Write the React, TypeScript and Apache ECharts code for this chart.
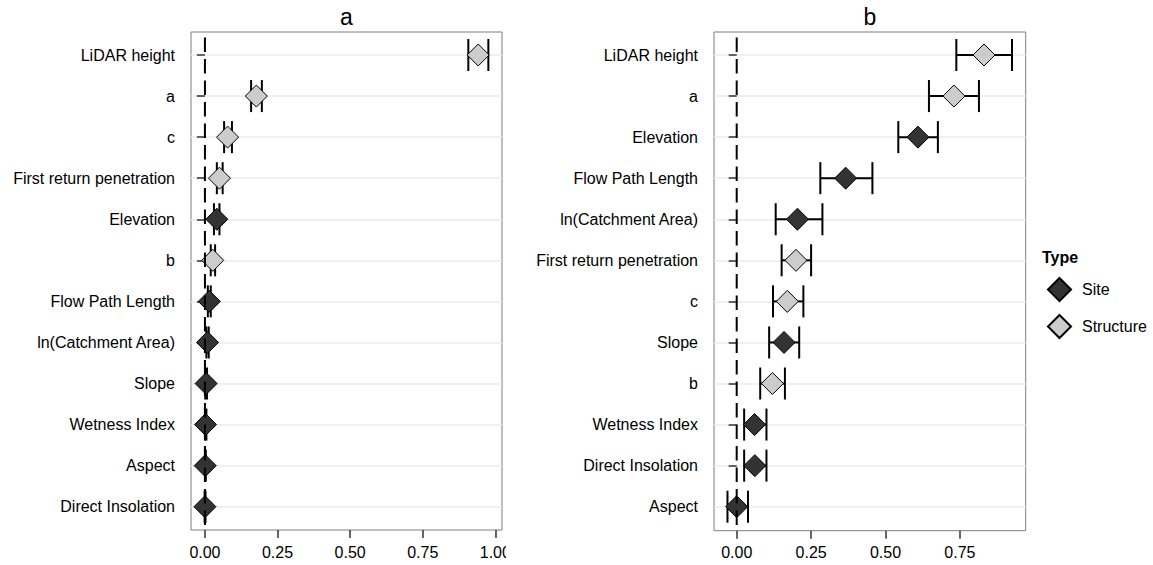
import React, { useEffect, useRef } from "react";
import * as echarts from "echarts";

// ---------- data ----------
const catsA = [
  "LiDAR height", "a", "c", "First return penetration", "Elevation", "b",
  "Flow Path Length", "ln(Catchment Area)", "Slope", "Wetness Index", "Aspect", "Direct Insolation",
];
const typesA = [
  "Structure", "Structure", "Structure", "Structure", "Site", "Structure",
  "Site", "Site", "Site", "Site", "Site", "Site",
];
const meanA = [0.941, 0.177, 0.078, 0.05, 0.041, 0.027, 0.015, 0.009, 0.004, 0.002, 0.001, 0.0];
const lowA = [0.907, 0.159, 0.066, 0.041, 0.031, 0.02, 0.01, 0.005, 0.001, 0.0, 0.0, -0.001];
const highA = [0.976, 0.196, 0.093, 0.061, 0.05, 0.035, 0.02, 0.013, 0.007, 0.005, 0.003, 0.002];

const catsB = [
  "LiDAR height", "a", "Elevation", "Flow Path Length", "ln(Catchment Area)",
  "First return penetration", "c", "Slope", "b", "Wetness Index", "Direct Insolation", "Aspect",
];
const typesB = [
  "Structure", "Structure", "Site", "Site", "Site",
  "Structure", "Structure", "Site", "Structure", "Site", "Site", "Site",
];
const meanB = [0.831, 0.73, 0.609, 0.366, 0.204, 0.199, 0.17, 0.159, 0.12, 0.06, 0.061, 0.0];
const lowB = [0.738, 0.646, 0.543, 0.281, 0.131, 0.151, 0.122, 0.109, 0.079, 0.025, 0.025, -0.031];
const highB = [0.925, 0.814, 0.676, 0.456, 0.288, 0.25, 0.224, 0.21, 0.162, 0.1, 0.1, 0.038];

const xTicks = [0, 0.25, 0.5, 0.75, 1];
const typeNames = ["Site", "Structure"];
const typeColors: Record<string, string> = { Site: "#333333", Structure: "#cccccc" };

const FONT = "Liberation Sans, Arial, Helvetica, sans-serif";

type Layout = {
  left: number; width: number; frameTop: number; frameH: number;
  innerTop: number; innerH: number; xMin: number; xMax: number;
  title: string; titleX: number; legend: boolean;
};

function makeOption(cats: string[], types: string[], mean: number[], low: number[], high: number[], L: Layout) {
  const errData = cats.map((_, i) => [low[i], high[i], i]);
  const scatterSeries = typeNames.map((t) => ({
    name: t,
    type: "scatter",
    xAxisIndex: 1,
    yAxisIndex: 1,
    symbol: "diamond",
    symbolSize: 22,
    z: 3,
    itemStyle: { color: typeColors[t], borderColor: "#000", borderWidth: 1, opacity: 1 },
    data: cats
      .map((_, i) => (types[i] === t ? [mean[i], i] : null))
      .filter((d) => d !== null),
  }));

  const graphic: any[] = [
    {
      type: "text",
      x: L.titleX,
      y: 17,
      style: { text: L.title, font: `23px ${FONT}`, fill: "#000", align: "center", verticalAlign: "middle" },
    },
  ];
  if (L.legend) {
    graphic.push({
      type: "text",
      x: 536,
      y: 257,
      style: { text: "Type", font: `bold 16px ${FONT}`, fill: "#000", align: "left", verticalAlign: "middle" },
    });
  }

  return {
    animation: false,
    backgroundColor: "#fff",
    textStyle: { fontFamily: FONT },
    graphic,
    legend: L.legend
      ? {
          show: true,
          data: typeNames,
          orient: "vertical",
          left: 541,
          top: 277,
          padding: 0,
          itemWidth: 23,
          itemHeight: 23,
          itemGap: 12,
          textStyle: { fontSize: 16, color: "#000", fontFamily: FONT, padding: [0, 0, 0, 6] },
          selectedMode: false,
        }
      : { show: false },
    grid: [
      {
        left: L.left, top: L.frameTop, width: L.width, height: L.frameH,
        show: true, borderColor: "#7f7f7f", borderWidth: 1, backgroundColor: "transparent",
        containLabel: false, outerBoundsMode: "none",
      },
      { left: L.left, top: L.innerTop, width: L.width, height: L.innerH, containLabel: false, outerBoundsMode: "none" },
    ],
    xAxis: [
      {
        type: "value",
        gridIndex: 0,
        min: L.xMin,
        max: L.xMax,
        axisLine: { show: false },
        splitLine: { show: false },
        axisTick: { show: true, length: 8, customValues: xTicks, lineStyle: { color: "#333", width: 1.5 } },
        axisLabel: {
          customValues: xTicks,
          formatter: (v: number) => v.toFixed(2),
          fontSize: 16,
          color: "#000",
          margin: 14,
          fontFamily: FONT,
          alignMinLabel: "center",
          alignMaxLabel: "center",
          hideOverlap: false,
        },
      },
      { type: "value", gridIndex: 1, min: L.xMin, max: L.xMax, show: false },
    ],
    yAxis: [
      { type: "value", gridIndex: 0, min: 0, max: 1, show: false },
      {
        type: "category",
        gridIndex: 1,
        data: cats,
        inverse: true,
        boundaryGap: false,
        axisLine: { show: false },
        axisTick: { show: true, length: 8, interval: 0, lineStyle: { color: "#333", width: 1.5 } },
        axisLabel: { interval: 0, fontSize: 16, color: "#000", margin: 16, fontFamily: FONT },
        splitLine: { show: true, interval: 0, lineStyle: { color: "#ebebeb", width: 1.6 } },
      },
    ],
    series: [
      {
        type: "custom",
        xAxisIndex: 1,
        yAxisIndex: 1,
        z: 2,
        silent: true,
        encode: { x: [0, 1], y: 2 },
        data: errData,
        renderItem: (params: any, api: any) => {
          const yi = api.value(2);
          const p1 = api.coord([api.value(0), yi]);
          const p2 = api.coord([api.value(1), yi]);
          const h = api.size([0, 1])[1] * 0.39;
          const style = { stroke: "#000", lineWidth: 2, fill: "none" };
          return {
            type: "group",
            children: [
              { type: "line", shape: { x1: p1[0], y1: p1[1], x2: p2[0], y2: p2[1] }, style },
              { type: "line", shape: { x1: p1[0], y1: p1[1] - h, x2: p1[0], y2: p1[1] + h }, style },
              { type: "line", shape: { x1: p2[0], y1: p2[1] - h, x2: p2[0], y2: p2[1] + h }, style },
            ],
          };
        },
      },
      ...scatterSeries,
      {
        type: "line",
        xAxisIndex: 0,
        yAxisIndex: 0,
        z: 5,
        silent: true,
        symbol: "none",
        data: [[0, 1], [0, 0]],
        lineStyle: { color: "#000", width: 2, type: [14.5, 7], dashOffset: 15.9 },
      },
    ],
  };
}

const layoutA: Layout = {
  left: 191, width: 311, frameTop: 32, frameH: 498, innerTop: 55, innerH: 451.7,
  xMin: -0.048, xMax: 1.023, title: "a", titleX: 346.5, legend: false,
};
const layoutB: Layout = {
  left: 208, width: 311.7, frameTop: 32, frameH: 498.7, innerTop: 55, innerH: 451.7,
  xMin: -0.0763, xMax: 0.9711, title: "b", titleX: 364, legend: true,
};

export default function App() {
  const refA = useRef<HTMLDivElement>(null);
  const refB = useRef<HTMLDivElement>(null);
  useEffect(() => {
    const a = echarts.init(refA.current!, null, { renderer: "svg" });
    const b = echarts.init(refB.current!, null, { renderer: "svg" });
    a.setOption(makeOption(catsA, typesA, meanA, lowA, highA, layoutA) as any);
    b.setOption(makeOption(catsB, typesB, meanB, lowB, highB, layoutB) as any);
    return () => {
      a.dispose();
      b.dispose();
    };
  }, []);
  return (
    <div style={{ position: "absolute", left: 0, top: 0, width: 1153, height: 565, background: "#fff", overflow: "hidden" }}>
      <div ref={refA} style={{ position: "absolute", left: 0, top: 0, width: 506, height: 565, overflow: "hidden" }} />
      <div ref={refB} style={{ position: "absolute", left: 506, top: 0, width: 647, height: 565 }} />
    </div>
  );
}
